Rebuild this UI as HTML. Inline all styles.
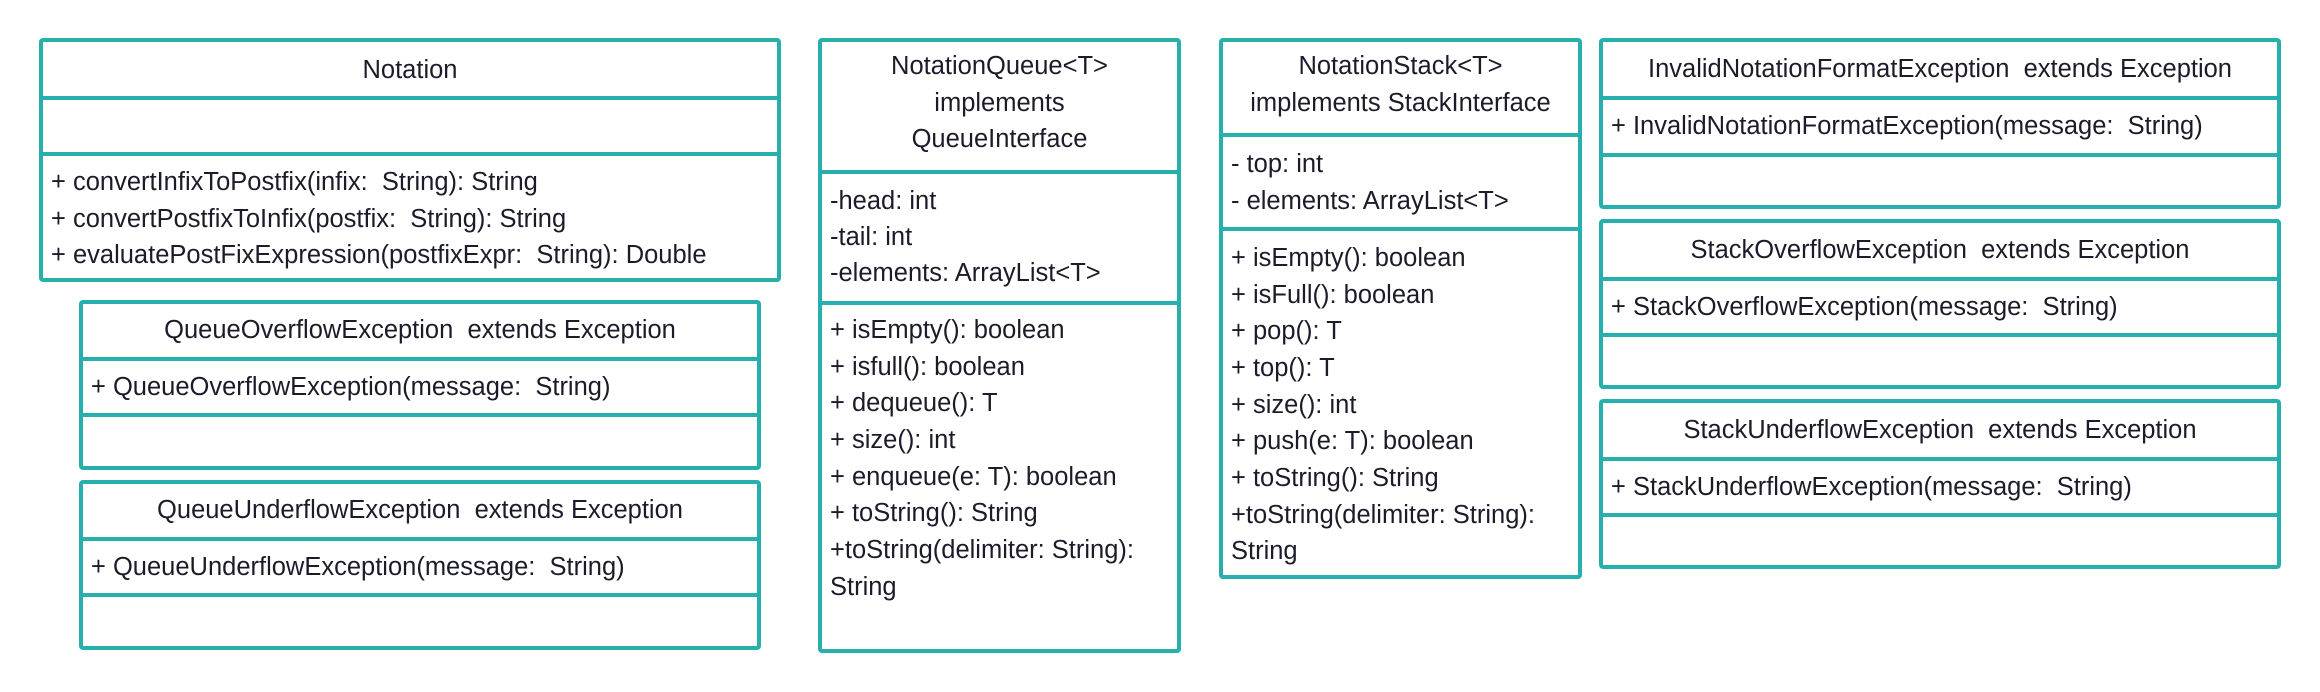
<!DOCTYPE html>
<html><head><meta charset="utf-8"><style>
*{margin:0;padding:0;box-sizing:border-box}
body{width:2320px;height:692px;background:#fff;position:relative;overflow:hidden;font-family:"Liberation Sans",sans-serif;color:#1b1b2a}
.b{position:absolute;border:4px solid #26afad;border-radius:4px;background:#fff}
.d{position:absolute;left:0;right:0;height:4px;background:#26afad}
.t{position:absolute;left:0;right:0;text-align:center;font-size:25.5px;line-height:37px;white-space:nowrap}
.l{position:absolute;left:8px;font-size:25.5px;line-height:37px;white-space:nowrap}
</style></head><body>

<!-- Notation -->
<div class="b" style="left:39px;top:38px;width:742px;height:244px">
 <div class="t" style="top:10px">Notation</div>
 <div class="d" style="top:54px"></div>
 <div class="d" style="top:110px"></div>
 <div class="l" style="top:122px">+ convertInfixToPostfix(infix:&nbsp; String): String</div>
 <div class="l" style="top:159px">+ convertPostfixToInfix(postfix:&nbsp; String): String</div>
 <div class="l" style="top:195px">+ evaluatePostFixExpression(postfixExpr:&nbsp; String): Double</div>
</div>

<!-- QueueOverflow -->
<div class="b" style="left:79px;top:300px;width:682px;height:170px">
 <div class="t" style="top:8px">QueueOverflowException&nbsp; extends Exception</div>
 <div class="d" style="top:53px"></div>
 <div class="l" style="top:65px">+ QueueOverflowException(message:&nbsp; String)</div>
 <div class="d" style="top:109px"></div>
</div>

<!-- QueueUnderflow -->
<div class="b" style="left:79px;top:480px;width:682px;height:170px">
 <div class="t" style="top:8px">QueueUnderflowException&nbsp; extends Exception</div>
 <div class="d" style="top:53px"></div>
 <div class="l" style="top:65px">+ QueueUnderflowException(message:&nbsp; String)</div>
 <div class="d" style="top:109px"></div>
</div>

<!-- NotationQueue -->
<div class="b" style="left:818px;top:38px;width:363px;height:615px">
 <div class="t" style="top:6px">NotationQueue&lt;T&gt;</div>
 <div class="t" style="top:43px">implements</div>
 <div class="t" style="top:79px">QueueInterface</div>
 <div class="d" style="top:128px"></div>
 <div class="l" style="top:141px">-head: int</div>
 <div class="l" style="top:177px">-tail: int</div>
 <div class="l" style="top:213px">-elements: ArrayList&lt;T&gt;</div>
 <div class="d" style="top:259px"></div>
 <div class="l" style="top:270px">+ isEmpty(): boolean</div>
 <div class="l" style="top:307px">+ isfull(): boolean</div>
 <div class="l" style="top:343px">+ dequeue(): T</div>
 <div class="l" style="top:380px">+ size(): int</div>
 <div class="l" style="top:417px">+ enqueue(e: T): boolean</div>
 <div class="l" style="top:453px">+ toString(): String</div>
 <div class="l" style="top:490px">+toString(delimiter: String):</div>
 <div class="l" style="top:527px">String</div>
</div>

<!-- NotationStack -->
<div class="b" style="left:1219px;top:38px;width:363px;height:541px">
 <div class="t" style="top:6px">NotationStack&lt;T&gt;</div>
 <div class="t" style="top:43px">implements StackInterface</div>
 <div class="d" style="top:91px"></div>
 <div class="l" style="top:104px">- top: int</div>
 <div class="l" style="top:141px">- elements: ArrayList&lt;T&gt;</div>
 <div class="d" style="top:185px"></div>
 <div class="l" style="top:198px">+ isEmpty(): boolean</div>
 <div class="l" style="top:235px">+ isFull(): boolean</div>
 <div class="l" style="top:271px">+ pop(): T</div>
 <div class="l" style="top:308px">+ top(): T</div>
 <div class="l" style="top:345px">+ size(): int</div>
 <div class="l" style="top:381px">+ push(e: T): boolean</div>
 <div class="l" style="top:418px">+ toString(): String</div>
 <div class="l" style="top:455px">+toString(delimiter: String):</div>
 <div class="l" style="top:491px">String</div>
</div>

<!-- InvalidNotationFormat -->
<div class="b" style="left:1599px;top:38px;width:682px;height:171px">
 <div class="t" style="top:9px">InvalidNotationFormatException&nbsp; extends Exception</div>
 <div class="d" style="top:54px"></div>
 <div class="l" style="top:66px">+ InvalidNotationFormatException(message:&nbsp; String)</div>
 <div class="d" style="top:111px"></div>
</div>

<!-- StackOverflow -->
<div class="b" style="left:1599px;top:219px;width:682px;height:170px">
 <div class="t" style="top:9px">StackOverflowException&nbsp; extends Exception</div>
 <div class="d" style="top:54px"></div>
 <div class="l" style="top:66px">+ StackOverflowException(message:&nbsp; String)</div>
 <div class="d" style="top:110px"></div>
</div>

<!-- StackUnderflow -->
<div class="b" style="left:1599px;top:399px;width:682px;height:170px">
 <div class="t" style="top:9px">StackUnderflowException&nbsp; extends Exception</div>
 <div class="d" style="top:54px"></div>
 <div class="l" style="top:66px">+ StackUnderflowException(message:&nbsp; String)</div>
 <div class="d" style="top:110px"></div>
</div>

</body></html>
